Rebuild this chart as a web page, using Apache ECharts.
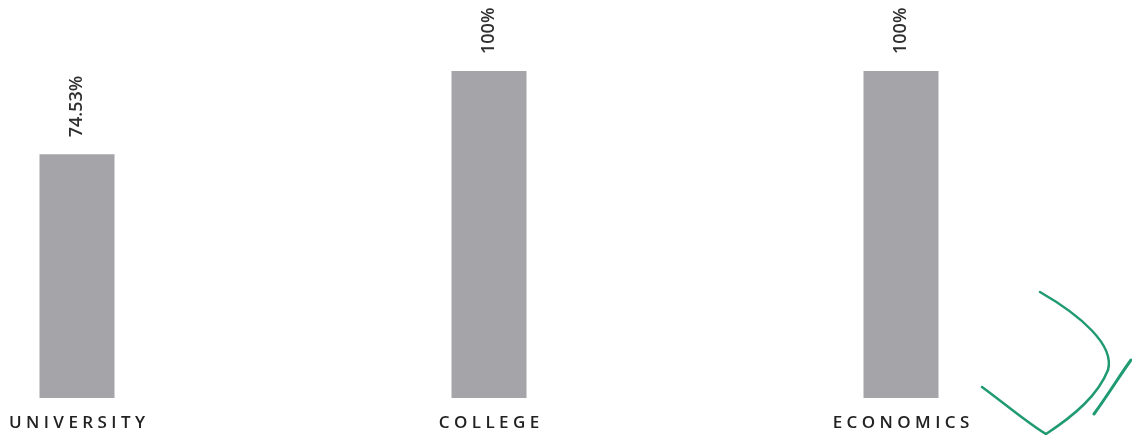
<!DOCTYPE html>
<html>
<head>
<meta charset="utf-8">
<script src="https://cdn.jsdelivr.net/npm/echarts@6/dist/echarts.min.js"></script>
<style>
html,body{margin:0;padding:0;background:#fff;}
#c{width:1132px;height:435px;}
</style>
</head>
<body>
<div id="c"></div>
<script>
const categories = ['UNIVERSITY', 'COLLEGE', 'ECONOMICS'];
const values = [74.53, 100, 100];
const valueLabels = ['74.53%', '100%', '100%'];

const chart = echarts.init(document.getElementById('c'), null, {renderer: 'canvas'});
const ink = {fill: 'none', stroke: '#1f9a72', lineWidth: 2.5, lineCap: 'round'};
chart.setOption({
  backgroundColor: '#ffffff',
  animation: false,
  grid: {left: 77, right: 231, top: 71, bottom: 37},
  xAxis: {
    type: 'category',
    data: categories,
    boundaryGap: false,
    axisLine: {show: false},
    axisTick: {show: false},
    splitLine: {show: false},
    axisLabel: {
      margin: 17,
      fontFamily: 'Open Sans',
      fontSize: 17,
      fontWeight: 600,
      color: '#222222',
      formatter: v => v.split('').join(' ')
    }
  },
  yAxis: {
    type: 'value',
    min: 0,
    max: 100,
    show: false
  },
  series: [{
    type: 'bar',
    data: values,
    barWidth: 75,
    clip: false,
    itemStyle: {color: '#a5a5a9'},
    label: {
      show: true,
      position: 'top',
      rotate: 90,
      align: 'left',
      verticalAlign: 'middle',
      distance: 17,
      fontFamily: 'Open Sans',
      fontSize: 18,
      fontWeight: 600,
      color: '#2e2e2e',
      formatter: p => valueLabels[p.dataIndex]
    }
  }],
  graphic: [
    {
      type: 'bezierCurve',
      shape: {x1: 982, y1: 387, cpx1: 1000, cpy1: 400, cpx2: 1030, cpy2: 425, x2: 1046, y2: 434},
      style: ink
    },
    {
      type: 'bezierCurve',
      shape: {x1: 1046, y1: 434, cpx1: 1075, cpy1: 415, cpx2: 1098, cpy2: 395, x2: 1108, y2: 370},
      style: ink
    },
    {
      type: 'bezierCurve',
      shape: {x1: 1108, y1: 370, cpx1: 1115, cpy1: 345, cpx2: 1080, cpy2: 315, x2: 1040, y2: 292},
      style: ink
    },
    {
      type: 'bezierCurve',
      shape: {x1: 1094, y1: 414, cpx1: 1108, cpy1: 395, cpx2: 1120, cpy2: 375, x2: 1131, y2: 360},
      style: Object.assign({}, ink, {lineWidth: 3})
    }
  ]
});
</script>
</body>
</html>
